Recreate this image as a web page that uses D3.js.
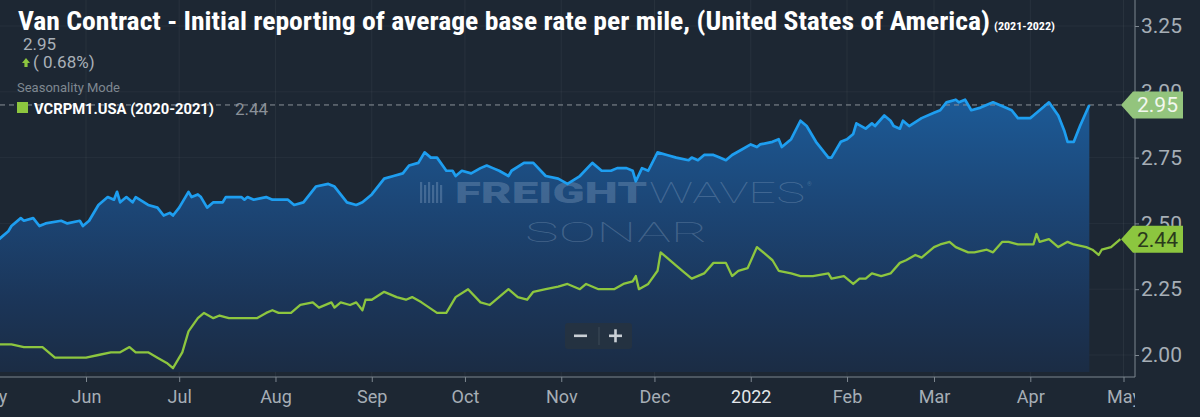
<!DOCTYPE html>
<html><head><meta charset="utf-8">
<script src="https://cdn.jsdelivr.net/npm/d3@7"></script>
<style>html,body{margin:0;padding:0;background:#1d2733;overflow:hidden}</style>
</head><body><svg id="c" width="1200" height="417"></svg>
<script>
// ---- data ----
const title = "Van Contract - Initial reporting of average base rate per mile, (United States of America)";
const titleRange = "(2021-2022)";
const currentValue = "2.95";
const currentChange = "( 0.68%)";
const modeLabel = "Seasonality Mode";
const compareName = "VCRPM1.USA (2020-2021)";
const compareValue = "2.44";

// 2021-2022 season (blue)
const blueDates = ["2021-05-04","2021-05-07","2021-05-08","2021-05-11","2021-05-12","2021-05-15","2021-05-17","2021-05-19","2021-05-24","2021-05-26","2021-05-30","2021-05-31",
"2021-06-02","2021-06-05","2021-06-08","2021-06-10","2021-06-11","2021-06-12","2021-06-14","2021-06-16","2021-06-17","2021-06-21","2021-06-24","2021-06-26","2021-06-28","2021-06-29",
"2021-07-01","2021-07-04","2021-07-05","2021-07-07","2021-07-08","2021-07-10","2021-07-12","2021-07-15","2021-07-16","2021-07-21","2021-07-22","2021-07-23","2021-07-25","2021-07-29","2021-07-31",
"2021-08-05","2021-08-07","2021-08-10","2021-08-14","2021-08-18","2021-08-20","2021-08-24","2021-08-27","2021-08-29",
"2021-09-01","2021-09-05","2021-09-08","2021-09-11","2021-09-13","2021-09-16","2021-09-18","2021-09-20","2021-09-22","2021-09-25","2021-09-27","2021-09-28","2021-09-30",
"2021-10-03","2021-10-06","2021-10-08","2021-10-10","2021-10-12","2021-10-15","2021-10-16","2021-10-20","2021-10-23","2021-10-27","2021-10-31",
"2021-11-03","2021-11-07","2021-11-11","2021-11-14","2021-11-17","2021-11-19","2021-11-22","2021-11-24","2021-11-25","2021-11-27","2021-11-29",
"2021-12-02","2021-12-05","2021-12-08","2021-12-12","2021-12-13","2021-12-15","2021-12-17","2021-12-20","2021-12-22","2021-12-24","2021-12-26","2021-12-29",
"2022-01-01","2022-01-03","2022-01-04","2022-01-08","2022-01-10","2022-01-11","2022-01-14","2022-01-17","2022-01-19","2022-01-22","2022-01-26","2022-01-27","2022-01-30",
"2022-02-01","2022-02-03","2022-02-04","2022-02-07","2022-02-09","2022-02-10","2022-02-13","2022-02-15","2022-02-16","2022-02-18","2022-02-19","2022-02-21","2022-02-25",
"2022-03-01","2022-03-03","2022-03-05","2022-03-08","2022-03-09","2022-03-11","2022-03-13","2022-03-16","2022-03-20","2022-03-24","2022-03-26","2022-03-28",
"2022-04-01","2022-04-02","2022-04-04","2022-04-07","2022-04-10","2022-04-12","2022-04-13","2022-04-15","2022-04-17","2022-04-20"];
const blueValues = [2.44,2.47,2.49,2.52,2.51,2.52,2.49,2.50,2.51,2.50,2.51,2.49,
2.51,2.57,2.60,2.59,2.62,2.58,2.60,2.58,2.60,2.57,2.56,2.53,2.54,2.53,
2.56,2.62,2.60,2.61,2.60,2.56,2.58,2.58,2.60,2.60,2.59,2.60,2.59,2.60,2.59,
2.59,2.57,2.58,2.64,2.65,2.64,2.58,2.57,2.58,
2.61,2.67,2.68,2.69,2.72,2.73,2.77,2.75,2.75,2.70,2.70,2.68,2.70,
2.69,2.71,2.72,2.71,2.70,2.68,2.70,2.73,2.73,2.68,2.67,
2.65,2.68,2.73,2.70,2.70,2.71,2.71,2.70,2.66,2.71,2.70,
2.77,2.76,2.75,2.74,2.75,2.74,2.76,2.76,2.75,2.74,2.76,2.78,
2.80,2.79,2.80,2.81,2.82,2.79,2.82,2.89,2.87,2.81,2.75,2.75,2.81,
2.82,2.84,2.88,2.86,2.88,2.87,2.91,2.89,2.87,2.86,2.89,2.87,2.90,
2.92,2.93,2.96,2.97,2.96,2.97,2.93,2.94,2.96,2.94,2.93,2.90,
2.90,2.91,2.93,2.96,2.91,2.85,2.81,2.81,2.87,2.95];

// 2020-2021 season (green), drawn one year later
const greenDates = ["2020-05-04","2020-05-08","2020-05-12","2020-05-15","2020-05-18","2020-05-22","2020-05-26",
"2020-06-01","2020-06-05","2020-06-09","2020-06-12","2020-06-15","2020-06-17","2020-06-21","2020-06-24","2020-06-27","2020-06-29",
"2020-07-02","2020-07-04","2020-07-07","2020-07-09","2020-07-12","2020-07-14","2020-07-17","2020-07-26","2020-07-29","2020-07-31",
"2020-08-02","2020-08-06","2020-08-09","2020-08-13","2020-08-15","2020-08-19","2020-08-20","2020-08-22","2020-08-25","2020-08-27","2020-08-29","2020-08-30",
"2020-09-01","2020-09-05","2020-09-09","2020-09-12","2020-09-14","2020-09-17","2020-09-22","2020-09-25","2020-09-28",
"2020-10-02","2020-10-06","2020-10-09","2020-10-15","2020-10-18","2020-10-21","2020-10-23","2020-10-27","2020-10-31",
"2020-11-03","2020-11-07","2020-11-09","2020-11-13","2020-11-16","2020-11-18","2020-11-21","2020-11-24","2020-11-25","2020-11-26","2020-11-29",
"2020-12-02","2020-12-03","2020-12-05","2020-12-08","2020-12-10","2020-12-13","2020-12-17","2020-12-20","2020-12-22","2020-12-24","2020-12-26","2020-12-28","2020-12-31",
"2021-01-03","2021-01-06","2021-01-08","2021-01-10","2021-01-14","2021-01-17","2021-01-21","2021-01-26","2021-01-27","2021-01-31",
"2021-02-03","2021-02-05","2021-02-07","2021-02-09","2021-02-12","2021-02-15","2021-02-18","2021-02-20","2021-02-23","2021-02-25",
"2021-03-01","2021-03-03","2021-03-06","2021-03-08","2021-03-12","2021-03-14","2021-03-18","2021-03-20","2021-03-23","2021-03-25","2021-03-28","2021-03-31",
"2021-04-02","2021-04-03","2021-04-04","2021-04-07","2021-04-10","2021-04-13","2021-04-15","2021-04-19","2021-04-21","2021-04-23","2021-04-24","2021-04-27","2021-04-30"];
const greenValues = [2.04,2.04,2.03,2.03,2.03,1.99,1.99,
1.99,2.00,2.01,2.01,2.03,2.01,2.01,1.99,1.97,1.95,
2.01,2.09,2.14,2.16,2.14,2.15,2.14,2.14,2.16,2.17,
2.16,2.16,2.19,2.20,2.18,2.20,2.18,2.20,2.19,2.20,2.17,2.21,
2.21,2.24,2.22,2.21,2.22,2.20,2.16,2.16,2.22,
2.25,2.20,2.19,2.25,2.22,2.21,2.24,2.25,2.26,
2.27,2.25,2.27,2.25,2.25,2.25,2.27,2.28,2.30,2.25,2.27,
2.32,2.39,2.37,2.34,2.32,2.29,2.31,2.35,2.35,2.35,2.30,2.32,2.33,
2.41,2.38,2.36,2.32,2.31,2.30,2.30,2.31,2.29,2.30,
2.27,2.29,2.29,2.31,2.30,2.31,2.35,2.36,2.38,2.37,
2.41,2.42,2.43,2.41,2.39,2.39,2.40,2.39,2.43,2.43,2.42,2.42,
2.42,2.46,2.43,2.44,2.41,2.43,2.42,2.41,2.40,2.38,2.40,2.41,2.44];

const yTicks = [2.00, 2.25, 2.50, 2.75, 3.00, 3.25];
const monthTicks = ["2021-05-01","2021-06-01","2021-07-01","2021-08-01","2021-09-01","2021-10-01","2021-11-01","2021-12-01","2022-01-01","2022-02-01","2022-03-01","2022-04-01","2022-05-01"];
const monthLabels = ["May","Jun","Jul","Aug","Sep","Oct","Nov","Dec","2022","Feb","Mar","Apr","May"];

// ---- layout ----
const W = 1200, H = 417;
const plotRight = 1135, plotBottom = 372, axisY = 377;
const parse = d3.timeParse("%Y-%m-%d");
const svg = d3.select("#c");
const bg = "#1d2733";
svg.append("rect").attr("width", W).attr("height", H).attr("fill", bg);

const x = d3.scaleTime().domain([parse("2021-06-01"), parse("2022-05-01")]).range([86, 1123.5]);
const y = d3.scaleLinear().domain([2.0, 3.25]).range([355, 26]);

const blue = blueDates.map((d, i) => ({date: parse(d), v: blueValues[i]}));
const green = greenDates.map((d, i) => ({date: d3.timeYear.offset(parse(d), 1), v: greenValues[i]}));
const mTicks = monthTicks.map(parse);

const defs = svg.append("defs");
defs.append("clipPath").attr("id", "plotclip").append("rect")
  .attr("x", 0).attr("y", 0).attr("width", plotRight).attr("height", axisY);
defs.append("clipPath").attr("id", "axisclip").append("rect")
  .attr("x", -60).attr("y", -10).attr("width", plotRight + 60).attr("height", 60);
const grad = defs.append("linearGradient").attr("id", "fillgrad")
  .attr("gradientUnits", "userSpaceOnUse").attr("x1", 0).attr("y1", 95).attr("x2", 0).attr("y2", plotBottom);
grad.append("stop").attr("offset", 0).attr("stop-color", "#1c5b98");
grad.append("stop").attr("offset", 0.4).attr("stop-color", "#1c4676");
grad.append("stop").attr("offset", 0.75).attr("stop-color", "#1b3558");
grad.append("stop").attr("offset", 1).attr("stop-color", "#1b2c44");

// grid
const grid = svg.append("g").attr("clip-path", "url(#plotclip)");
grid.selectAll("line.v").data(mTicks).join("line")
  .attr("x1", d => x(d)).attr("x2", d => x(d)).attr("y1", 0).attr("y2", axisY)
  .attr("stroke", "rgba(255,255,255,0.05)");
grid.selectAll("line.h").data(yTicks).join("line")
  .attr("x1", 0).attr("x2", plotRight).attr("y1", d => y(d)).attr("y2", d => y(d))
  .attr("stroke", "rgba(255,255,255,0.045)");

const plot = svg.append("g").attr("clip-path", "url(#plotclip)");
// area
plot.append("path").datum(blue)
  .attr("d", d3.area().x(d => x(d.date)).y0(plotBottom).y1(d => y(d.v)))
  .attr("fill", "url(#fillgrad)");

// watermark
const wm = plot.append("g").attr("fill", "rgba(175,195,220,0.27)");
[0,4,8,12,16,20].forEach((o, i) => {
  wm.append("rect").attr("x", 420 + o).attr("y", 182 + (i % 2) * 3).attr("width", 2.2).attr("height", 21 - (i % 2) * 3);
});
wm.append("text").attr("x", 455).attr("y", 203).attr("font-family", "Roboto, sans-serif")
  .attr("font-weight", 900).attr("font-size", 29).attr("textLength", 192).attr("lengthAdjust", "spacingAndGlyphs").text("FREIGHT");
wm.append("text").attr("x", 649).attr("y", 203).attr("font-family", "Roboto, sans-serif")
  .attr("font-weight", 100).attr("font-size", 29).attr("textLength", 156).attr("lengthAdjust", "spacingAndGlyphs").text("WAVES");
wm.append("text").attr("x", 807).attr("y", 186).attr("font-family", "Roboto, sans-serif")
  .attr("font-size", 6).text("®");
wm.append("text").attr("x", 525).attr("y", 242).attr("font-family", "Roboto, sans-serif")
  .attr("font-weight", 100).attr("font-size", 28).attr("textLength", 183).attr("lengthAdjust", "spacingAndGlyphs").text("SONAR");

// current value dashed line
plot.append("line").attr("x1", 0).attr("x2", 1122).attr("y1", y(+currentValue)).attr("y2", y(+currentValue))
  .attr("stroke", "#8a9199").attr("stroke-width", 1).attr("stroke-dasharray", "5,4");

// lines
const line = d3.line().x(d => x(d.date)).y(d => y(d.v));
plot.append("path").datum(green).attr("d", line).attr("fill", "none")
  .attr("stroke", "#8dc63f").attr("stroke-width", 2.3).attr("stroke-linejoin", "round");
plot.append("path").datum(blue).attr("d", line).attr("fill", "none")
  .attr("stroke", "#1e9ef0").attr("stroke-width", 2.7).attr("stroke-linejoin", "round");

// zoom buttons
const zb = svg.append("g");
zb.append("rect").attr("x", 565).attr("y", 323).attr("width", 67).attr("height", 26).attr("rx", 3)
  .attr("fill", "rgba(38,50,63,0.85)");
zb.append("line").attr("x1", 599).attr("x2", 599).attr("y1", 327).attr("y2", 345).attr("stroke", "rgba(255,255,255,0.12)");
zb.append("rect").attr("x", 574).attr("y", 334.5).attr("width", 13).attr("height", 2.6).attr("fill", "#c9cfd5");
zb.append("rect").attr("x", 609).attr("y", 334.5).attr("width", 13).attr("height", 2.6).attr("fill", "#c9cfd5");
zb.append("rect").attr("x", 614.2).attr("y", 329.3).attr("width", 2.6).attr("height", 13).attr("fill", "#c9cfd5");

// axes
const axisColor = "#7d8790";
svg.append("line").attr("x1", 0).attr("x2", plotRight).attr("y1", axisY).attr("y2", axisY).attr("stroke", axisColor);
svg.append("line").attr("x1", plotRight).attr("x2", plotRight).attr("y1", 0).attr("y2", axisY).attr("stroke", axisColor);

const xAxis = svg.append("g").attr("transform", `translate(0,${axisY})`).attr("clip-path", "url(#axisclip)")
  .call(d3.axisBottom(x).tickValues(mTicks).tickFormat((d, i) => monthLabels[i]).tickSize(5).tickPadding(8));
xAxis.select(".domain").remove();
xAxis.selectAll(".tick line").attr("stroke", axisColor);
xAxis.selectAll(".tick text").attr("font-family", "Roboto, sans-serif").attr("font-size", 18)
  .attr("fill", (d, i) => monthLabels[i] === "2022" ? "#e2e6ea" : "#a6aeb6");

const yAxis = svg.append("g").attr("transform", `translate(${plotRight},0)`)
  .call(d3.axisRight(y).tickValues(yTicks).tickFormat(d3.format(".2f")).tickSize(4).tickPadding(2));
yAxis.select(".domain").remove();
yAxis.selectAll(".tick line").attr("stroke", axisColor);
yAxis.selectAll(".tick text").attr("font-family", "Roboto, sans-serif").attr("font-size", 21)
  .attr("fill", "#a6aeb6");

// value tags
function tag(v, fill, textFill, label) {
  const cy = y(v), h = 13.5;
  svg.append("path").attr("d", `M1121,${cy} L1133,${cy - h} L1183,${cy - h} L1183,${cy + h} L1133,${cy + h} Z`)
    .attr("fill", fill);
  svg.append("text").attr("x", 1137).attr("y", cy + 7.5).attr("font-family", "Roboto, sans-serif")
    .attr("font-size", 21).attr("fill", textFill).text(label);
}
tag(+currentValue, "#93c47d", "#f2f7ee", currentValue);
tag(greenValues[greenValues.length - 1], "#8cc63f", "#2a3a1c", compareValue);

// header
svg.append("text").attr("x", 18).attr("y", 30)
  .attr("font-family", "'Roboto Condensed', 'Liberation Sans Narrow', 'DejaVu Sans Condensed', Roboto, sans-serif")
  .attr("font-weight", 700).attr("font-size", 25).attr("fill", "#ffffff")
  .attr("textLength", 972).attr("lengthAdjust", "spacingAndGlyphs").text(title);
svg.append("text").attr("x", 994).attr("y", 30)
  .attr("font-family", "'Roboto Condensed', 'Liberation Sans Narrow', Roboto, sans-serif")
  .attr("font-weight", 700).attr("font-size", 10.5).attr("fill", "#ffffff")
  .attr("textLength", 61).attr("lengthAdjust", "spacingAndGlyphs").text(titleRange);
svg.append("text").attr("x", 23).attr("y", 50).attr("font-family", "Roboto, sans-serif")
  .attr("font-size", 17).attr("fill", "#a9b0b8").text(currentValue);
svg.append("path").attr("d", "M26,58 L30,63 L27.6,63 L27.6,67 L24.4,67 L24.4,63 L22,63 Z").attr("fill", "#8dc63f");
svg.append("text").attr("x", 33).attr("y", 68).attr("font-family", "Roboto, sans-serif")
  .attr("font-size", 17).attr("fill", "#a9b0b8").text(currentChange);
svg.append("text").attr("x", 17).attr("y", 92).attr("font-family", "Roboto, sans-serif")
  .attr("font-size", 13).attr("fill", "#7f8891").text(modeLabel);
svg.append("rect").attr("x", 17).attr("y", 102).attr("width", 11).attr("height", 11).attr("fill", "#8dc63f");
svg.append("text").attr("x", 34).attr("y", 114).attr("font-family", "Roboto, sans-serif")
  .attr("font-weight", 700).attr("font-size", 14).attr("fill", "#ffffff")
  .attr("textLength", 180).attr("lengthAdjust", "spacingAndGlyphs").text(compareName);
svg.append("text").attr("x", 235).attr("y", 115).attr("font-family", "Roboto, sans-serif")
  .attr("font-size", 17).attr("fill", "#8a9098").text(compareValue);
</script></body></html>
